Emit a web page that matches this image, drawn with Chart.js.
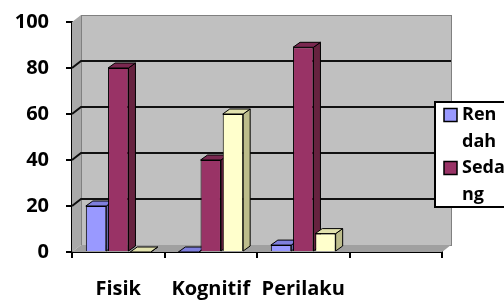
<!DOCTYPE html>
<html>
<head>
<meta charset="utf-8">
<script src="https://cdn.jsdelivr.net/npm/chart.js@4/dist/chart.umd.min.js"></script>
<style>
html,body{margin:0;padding:0;background:#fff;}
#wrap{width:504px;height:302px;position:relative;}
</style>
</head>
<body>
<div id="wrap"><canvas id="c" width="504" height="302"></canvas></div>
<script>
const categories = ['Fisik', 'Kognitif', 'Perilaku', ''];
const seriesNames = ['Rendah', 'Sedang', 'Tinggi'];
const rendah = [20, 0, 3, null];
const sedang = [80, 40, 89, null];
const tinggi = [0, 60, 8, null];
const yMin = 0, yMax = 100, yStep = 20;

const FONT = '"Open Sans", "DejaVu Sans", sans-serif';
const fronts = ['#9999FF', '#993366', '#FFFFCC'];
const tops   = ['#7F7FDD', '#7A2850', '#E2E2AE'];
const sides  = ['#6666AA', '#66223F', '#BDBD8C'];

const wallPlugin = {
  id: 'wall3d',
  beforeDatasetsDraw(chart) {
    const ctx = chart.ctx;
    const {left, right, top, bottom} = chart.chartArea;
    const WD = 9, WH = 7;
    ctx.save();
    ctx.fillStyle = '#a9a9a9';
    ctx.beginPath();
    ctx.moveTo(left, top); ctx.lineTo(left + WD, top - WH);
    ctx.lineTo(left + WD, bottom - WH); ctx.lineTo(left, bottom); ctx.closePath();
    ctx.fill();
    ctx.fillStyle = '#c0c0c0';
    ctx.fillRect(left + WD, top - WH, right - left, bottom - top);
    ctx.strokeStyle = '#808080'; ctx.lineWidth = 1;
    ctx.strokeRect(left + WD + 0.5, top - WH + 0.5, right - left, bottom - top);
    ctx.fillStyle = '#a0a0a0';
    ctx.beginPath();
    ctx.moveTo(left, bottom); ctx.lineTo(left + WD, bottom - WH);
    ctx.lineTo(right + WD, bottom - WH); ctx.lineTo(right, bottom); ctx.closePath();
    ctx.fill();
    const ys = chart.scales.y;
    ctx.strokeStyle = '#111'; ctx.lineWidth = 2;
    ys.ticks.forEach(t => {
      if (t.value <= yMin || t.value >= yMax) return;
      const y = ys.getPixelForValue(t.value);
      ctx.beginPath();
      ctx.moveTo(left, y); ctx.lineTo(left + WD, y - WH); ctx.lineTo(right + WD, y - WH);
      ctx.stroke();
    });
    const DX = 7, DY = -5;
    ctx.lineWidth = 1; ctx.strokeStyle = '#000';
    for (let i = 0; i < categories.length; i++) {
      chart.data.datasets.forEach((ds, d) => {
        const v = ds.data[i];
        if (v === null || v === undefined) return;
        const el = chart.getDatasetMeta(d).data[i];
        const L = el.x - el.width / 2, R = el.x + el.width / 2;
        const t = el.y, b = el.base;
        ctx.fillStyle = sides[d];
        ctx.beginPath();
        ctx.moveTo(R, t); ctx.lineTo(R + DX, t + DY); ctx.lineTo(R + DX, b + DY); ctx.lineTo(R, b); ctx.closePath();
        ctx.fill(); ctx.stroke();
        ctx.fillStyle = tops[d];
        ctx.beginPath();
        ctx.moveTo(L, t); ctx.lineTo(L + DX, t + DY); ctx.lineTo(R + DX, t + DY); ctx.lineTo(R, t); ctx.closePath();
        ctx.fill(); ctx.stroke();
      });
    }
    ctx.restore();
  }
};

const legendPlugin = {
  id: 'boxLegend',
  afterDraw(chart) {
    const ctx = chart.ctx;
    const bx = 435, by = 102, bw = 90, bh = 105;
    ctx.save();
    ctx.fillStyle = '#fff';
    ctx.fillRect(bx, by, bw, bh);
    ctx.strokeStyle = '#000'; ctx.lineWidth = 2;
    ctx.strokeRect(bx, by, bw, bh);
    ctx.beginPath(); ctx.rect(bx + 1, by + 1, bw - 2, bh - 2); ctx.clip();
    ctx.font = 'bold 18px ' + FONT;
    ctx.textBaseline = 'middle';
    ctx.fillStyle = '#000';
    const lineH = 26.5, maxW = 44;
    let y = 115;
    chart.data.datasets.forEach((ds, d) => {
      const lines = []; let cur = '';
      for (const ch of ds.label) {
        if (cur && ctx.measureText(cur + ch).width > maxW) { lines.push(cur); cur = ch; }
        else cur += ch;
      }
      if (cur) lines.push(cur);
      ctx.fillStyle = fronts[d];
      ctx.fillRect(444, y - 6.5, 13, 13);
      ctx.strokeStyle = '#000'; ctx.lineWidth = 1.5;
      ctx.strokeRect(444, y - 6.5, 13, 13);
      ctx.fillStyle = '#000';
      lines.forEach((ln, k) => ctx.fillText(ln, 462, y + k * lineH));
      y += lines.length * lineH;
    });
    ctx.restore();
  }
};

new Chart(document.getElementById('c'), {
  type: 'bar',
  data: {
    labels: categories,
    datasets: [
      {label: seriesNames[0], data: rendah, backgroundColor: fronts[0]},
      {label: seriesNames[1], data: sedang, backgroundColor: fronts[1]},
      {label: seriesNames[2], data: tinggi, backgroundColor: fronts[2]}
    ]
  },
  options: {
    responsive: false,
    animation: false,
    devicePixelRatio: 1,
    layout: {padding: {left: 0, right: 62, top: 22, bottom: 0}},
    datasets: {bar: {borderColor: '#000', borderWidth: 1, categoryPercentage: 0.72, barPercentage: 0.92}},
    plugins: {legend: {display: false}, tooltip: {enabled: false}},
    scales: {
      x: {
        grid: {display: true, drawOnChartArea: false, drawTicks: true, tickLength: 6, color: '#000', lineWidth: 2, offset: true},
        border: {display: true, color: '#000', width: 2},
        ticks: {color: '#000', font: {family: FONT, size: 20, weight: 'bold'}, padding: 19, maxRotation: 0},
        afterFit(s) { s.height = 50; s.paddingLeft = 0; s.paddingRight = 0; }
      },
      y: {
        min: yMin, max: yMax,
        grid: {display: true, drawOnChartArea: false, drawTicks: true, tickLength: 6, color: '#000', lineWidth: 2},
        border: {display: true, color: '#000', width: 2},
        ticks: {stepSize: yStep, color: '#000', font: {family: FONT, size: 20, weight: 'bold'}, padding: 17},
        afterFit(s) { s.width = 72; s.paddingTop = 0; s.paddingBottom = 0; }
      }
    }
  },
  plugins: [wallPlugin, legendPlugin]
});
</script>
</body>
</html>
